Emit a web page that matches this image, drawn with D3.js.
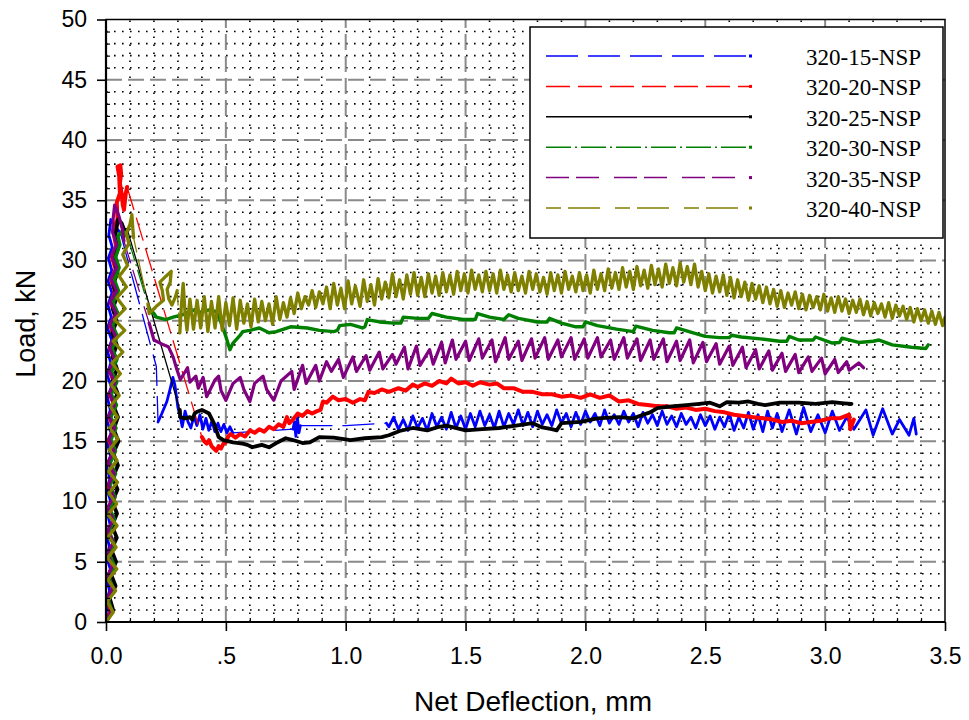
<!DOCTYPE html>
<html>
<head>
<meta charset="utf-8">
<script src="https://cdn.jsdelivr.net/npm/d3@7"></script>
<style>
  body { margin: 0; background: #fff; }
  svg { display: block; }
</style>
</head>
<body>
<svg id="chart" width="969" height="720"></svg>
<script>
// ---- data: load (kN) vs net deflection (mm) ----
const seriesNames = ["320-15-NSP", "320-20-NSP", "320-25-NSP", "320-30-NSP", "320-35-NSP", "320-40-NSP"];

const xTicks = [0, 0.5, 1.0, 1.5, 2.0, 2.5, 3.0, 3.5];
const xTickLabels = ["0.0", ".5", "1.0", "1.5", "2.0", "2.5", "3.0", "3.5"];
const yTicks = [0, 5, 10, 15, 20, 25, 30, 35, 40, 45, 50];
const yTickLabels = ["0", "5", "10", "15", "20", "25", "30", "35", "40", "45", "50"];

const nsp15 = [[0,0],[0.012,0.8],[0.002,1.7],[0.015,2.6],[0.003,3.5],[0.018,4.4],[0.004,5.3],[0.014,6.3],[0.002,7.2],[0.017,8.1],[0.005,9.1],[0.02,10.0],[0.004,11.0],[0.016,11.9],[0.003,12.9],[0.019,13.8],[0.006,14.8],[0.021,15.7],[0.004,16.7],[0.018,17.6],[0.006,18.6],[0.022,19.5],[0.005,20.5],[0.02,21.5],[0.007,22.4],[0.024,23.4],[0.006,24.4],[0.022,25.3],[0.008,26.3],[0.025,27.3],[0.009,28.3],[0.024,29.2],[0.01,30.2],[0.026,31.1],[0.012,32.1],[0.02,33.4],[0.035,32.9],[0.06,32.3],
  [0.21,21.2],[0.217,16.6],
  [0.233,17.3],[0.254,18.3],[0.267,19.3],[0.279,20.3],[0.288,19.6],[0.3,17.8],[0.31,17.0],[0.318,16.2],[0.33,17.5],[0.342,16.6],[0.354,16.1],[0.367,17.1],[0.379,16.3],[0.392,17.2],[0.404,16.0],[0.417,16.9],[0.429,15.9],[0.442,16.7],[0.454,15.8],[0.467,16.5],[0.479,15.8],[0.492,16.4],[0.504,15.7],[0.517,16.2],[0.529,15.7],
  [0.78,16.0],[0.786,16.6],[0.792,15.4],[0.798,17.1],[0.805,15.7],[0.811,16.3],
  [1.0,16.3],[1.17,16.5],
  [1.18,16.2],[1.2,17.0],[1.22,16.0],[1.24,16.8],[1.26,15.9],[1.28,17.1],[1.3,16.1],[1.32,16.9],[1.34,15.9],[1.36,17.3],[1.38,16.2],[1.4,17.0],[1.42,16.0],[1.44,17.4],[1.46,16.1],[1.48,17.1],[1.5,16.0],[1.52,17.3],[1.54,16.2],[1.56,17.5],[1.58,16.3],[1.6,17.2],[1.62,16.1],[1.64,17.5],[1.66,16.2],[1.68,17.3],[1.7,16.4],[1.72,17.6],[1.74,16.3],[1.76,17.4],[1.78,16.2],[1.8,17.5],[1.82,16.4],[1.84,17.2],[1.86,16.3],[1.88,17.6],[1.9,16.5],[1.92,17.3],[1.94,16.2],[1.96,17.4],[1.98,16.4],[2.0,17.5],[2.02,16.6],[2.04,17.3],[2.06,16.3],[2.08,17.6],[2.1,16.5],[2.12,17.2],[2.14,16.4],[2.16,17.5],[2.18,16.6],[2.2,17.3],[2.22,16.2],[2.24,17.4],[2.26,16.5],[2.28,17.2],[2.3,16.3],[2.32,17.5],[2.34,16.4],[2.36,17.1],[2.38,16.2],[2.4,17.3],[2.42,16.4],[2.44,17.0],[2.46,16.1],[2.48,17.2],[2.5,16.3],[2.52,17.1],[2.54,16.0],[2.56,17.0],[2.58,16.2],[2.6,17.3],[2.62,15.9],[2.64,17.0],[2.66,16.1],[2.68,17.4],[2.7,16.0],[2.72,17.2],[2.74,15.8],[2.76,17.5],[2.78,16.1],[2.8,17.3],[2.82,15.8],[2.85,17.6],[2.88,15.6],[2.91,17.8],[2.94,15.8],[2.97,17.2],[3.0,15.7],[3.03,17.5],[3.06,15.9],[3.09,17.0],[3.12,16.0],[3.17,17.6],[3.2,15.5],[3.24,17.7],[3.28,15.6],[3.31,16.8],[3.35,15.5],[3.37,16.9],[3.38,15.6]];

const nsp20 = [[0,0],[0.02,0.9],[0.006,1.8],[0.03,2.8],[0.008,3.7],[0.028,4.6],[0.01,5.6],[0.033,6.5],[0.009,7.5],[0.03,8.4],[0.012,9.4],[0.035,10.3],[0.01,11.3],[0.032,12.2],[0.013,13.2],[0.036,14.1],[0.012,15.1],[0.034,16.0],[0.014,17.0],[0.037,17.9],[0.015,18.9],[0.035,19.8],[0.016,20.8],[0.038,21.7],[0.017,22.7],[0.036,23.6],[0.018,24.6],[0.04,25.5],[0.02,26.5],[0.038,27.4],[0.022,28.4],[0.04,29.3],[0.024,30.3],[0.042,31.2],[0.03,32.5],[0.048,33.4],[0.045,34.8],[0.058,35.6],[0.055,37.0],[0.048,37.8],[0.06,37.9],[0.063,37.2],[0.058,36.4],[0.066,35.5],[0.07,34.6],[0.075,34.2],[0.082,35.5],[0.088,36.1],
  [0.4,15.35],
  [0.41,15.0],[0.42,14.8],[0.43,15.1],[0.44,14.6],[0.45,14.4],[0.46,14.2],[0.47,14.6],[0.48,14.4],[0.49,14.8],[0.5,14.9],[0.51,15.4],[0.52,15.6],[0.54,15.3],[0.56,15.6],[0.58,15.4],[0.6,15.9],[0.62,15.7],[0.64,16.0],[0.66,15.8],[0.68,16.2],[0.7,16.0],[0.72,16.4],[0.74,16.2],[0.755,17.0],[0.765,16.5],[0.78,16.8],[0.8,17.3],[0.82,17.1],[0.84,17.5],[0.86,17.3],[0.88,17.5],[0.895,17.6],[0.905,18.3],[0.92,18.2],[0.946,18.7],[0.97,18.4],[1.0,18.5],[1.03,18.2],[1.06,18.5],[1.08,18.4],[1.095,19.1],[1.12,19.0],[1.15,19.3],[1.18,19.1],[1.22,19.4],[1.25,19.2],[1.28,19.7],[1.3,19.5],[1.33,19.8],[1.36,19.6],[1.39,20.0],[1.42,19.8],[1.44,20.2],[1.47,19.8],[1.5,19.9],[1.53,19.6],[1.56,19.9],[1.6,19.7],[1.63,19.8],[1.66,19.4],[1.7,19.4],[1.74,19.1],[1.78,19.1],[1.82,18.9],[1.86,18.9],[1.9,18.7],[1.94,18.8],[1.98,18.6],[2.02,18.9],[2.06,18.6],[2.1,18.8],[2.14,18.3],[2.18,18.4],[2.22,18.1],[2.26,18.0],[2.3,17.9],[2.34,17.9],[2.38,17.7],[2.42,17.8],[2.46,17.6],[2.5,17.7],[2.54,17.5],[2.58,17.4],[2.62,17.2],[2.66,17.1],[2.7,17.0],[2.74,16.9],[2.78,16.8],[2.82,16.6],[2.86,16.7],[2.9,16.5],[2.94,16.6],[2.98,16.7],[3.02,16.9],[3.06,16.9],[3.1,17.2],[3.105,16.0],[3.12,16.8]];

const nsp25 = [[0,0],[0.03,1.0],[0.015,2.0],[0.04,3.0],[0.02,4.0],[0.042,5.0],[0.022,6.0],[0.045,7.0],[0.025,8.0],[0.046,9.0],[0.026,10.0],[0.048,11.0],[0.028,12.0],[0.05,13.0],[0.03,14.0],[0.052,15.0],[0.032,16.0],[0.05,17.0],[0.03,18.0],[0.048,19.0],[0.028,20.0],[0.046,21.0],[0.027,22.0],[0.045,23.0],[0.026,24.0],[0.044,25.0],[0.028,26.0],[0.046,27.0],[0.03,28.0],[0.048,29.0],[0.034,30.0],[0.05,31.0],[0.04,32.2],[0.05,33.4],[0.065,33.1],[0.075,32.6],[0.09,32.5],
  [0.308,17.6],
  [0.31,17.0],[0.33,16.9],[0.35,17.0],[0.36,16.8],[0.37,17.3],[0.38,17.45],[0.4,17.6],[0.43,17.3],[0.45,16.5],[0.47,15.35],[0.49,15.1],[0.53,14.9],[0.57,14.8],[0.59,14.7],[0.61,14.5],[0.65,14.7],[0.68,14.5],[0.71,14.85],[0.75,15.25],[0.78,15.1],[0.82,14.85],[0.85,14.9],[0.89,15.35],[0.95,15.3],[1.02,15.1],[1.08,15.25],[1.15,15.35],[1.18,15.5],[1.225,15.85],[1.28,16.1],[1.34,15.9],[1.39,16.2],[1.42,16.3],[1.5,15.9],[1.57,16.0],[1.64,16.1],[1.71,16.3],[1.78,16.5],[1.82,16.15],[1.86,16.0],[1.88,15.9],[1.9,16.5],[1.98,16.6],[2.05,16.9],[2.14,17.0],[2.2,16.9],[2.24,17.2],[2.27,17.4],[2.3,17.75],[2.36,17.9],[2.42,18.0],[2.475,18.1],[2.52,18.2],[2.56,17.9],[2.59,18.25],[2.64,18.2],[2.68,18.3],[2.72,18.1],[2.75,18.0],[2.81,18.2],[2.89,18.2],[2.96,18.1],[3.03,18.25],[3.08,18.15],[3.11,18.1]];

const nsp30 = [[0,0],[0.025,0.9],[0.01,1.8],[0.03,2.8],[0.012,3.7],[0.035,4.7],[0.014,5.6],[0.033,6.6],[0.012,7.5],[0.036,8.5],[0.015,9.4],[0.038,10.4],[0.016,11.3],[0.04,12.3],[0.018,13.2],[0.04,14.2],[0.02,15.1],[0.042,16.1],[0.02,17.0],[0.044,18.0],[0.022,18.9],[0.045,19.9],[0.024,20.8],[0.046,21.8],[0.025,22.7],[0.048,23.7],[0.028,24.6],[0.05,25.6],[0.03,26.5],[0.052,27.5],[0.035,28.4],[0.055,29.4],[0.04,30.3],[0.058,31.3],[0.05,32.0],[0.07,32.5],[0.075,32.1],[0.09,32.0],
  [0.18,26.0],
  [0.2,25.6],[0.21,25.3],[0.25,25.1],[0.28,25.3],[0.32,25.5],[0.36,25.9],[0.39,25.7],[0.43,25.9],[0.46,25.75],[0.475,25.1],[0.5,23.7],[0.517,22.6],[0.53,23.15],[0.56,23.8],[0.57,24.1],[0.6,24.2],[0.64,24.4],[0.68,24.0],[0.71,24.1],[0.77,24.5],[0.84,24.4],[0.89,24.2],[0.95,24.1],[0.965,24.2],[0.975,24.6],[1.02,24.7],[1.07,24.4],[1.08,24.5],[1.09,25.1],[1.14,24.9],[1.2,24.8],[1.23,24.8],[1.24,25.3],[1.3,25.2],[1.345,25.2],[1.36,25.6],[1.42,25.3],[1.49,25.1],[1.54,25.1],[1.55,25.6],[1.6,25.3],[1.66,25.1],[1.68,25.5],[1.72,25.2],[1.8,24.9],[1.84,24.9],[1.85,25.2],[1.9,24.8],[1.96,24.5],[1.99,24.5],[2.0,24.9],[2.05,24.6],[2.13,24.3],[2.2,24.1],[2.21,24.55],[2.28,24.2],[2.35,24.0],[2.37,24.0],[2.38,24.4],[2.45,24.0],[2.5,23.7],[2.56,23.6],[2.6,23.6],[2.61,23.8],[2.65,23.65],[2.73,23.5],[2.81,23.3],[2.84,23.3],[2.85,23.7],[2.89,23.4],[2.95,23.4],[2.96,23.65],[3.03,23.15],[3.06,23.2],[3.07,23.55],[3.14,23.2],[3.2,23.3],[3.225,23.4],[3.28,23.0],[3.36,22.8],[3.42,22.7],[3.43,23.0]];

const nsp35 = [[0,0],[0.022,0.9],[0.004,1.9],[0.026,2.8],[0.006,3.8],[0.028,4.7],[0.005,5.7],[0.03,6.6],[0.008,7.6],[0.03,8.5],[0.007,9.5],[0.032,10.4],[0.01,11.4],[0.034,12.3],[0.009,13.3],[0.033,14.2],[0.012,15.2],[0.036,16.1],[0.011,17.1],[0.035,18.0],[0.014,19.0],[0.038,19.9],[0.012,20.9],[0.036,21.8],[0.015,22.8],[0.04,23.7],[0.016,24.7],[0.042,25.6],[0.018,26.6],[0.044,27.5],[0.02,28.5],[0.045,29.4],[0.022,30.4],[0.045,31.3],[0.028,32.3],[0.03,33.5],[0.036,34.6],[0.045,34.2],[0.055,33.6],[0.068,32.6],[0.075,31.6],
  [0.18,24.8],
  [0.2,23.4],[0.24,23.0],[0.26,22.85],[0.28,22.0],[0.295,21.0],[0.31,20.1],[0.34,21.1],[0.35,19.9],[0.375,20.4],[0.385,19.4],[0.405,20.3],[0.42,18.7],[0.455,20.1],[0.47,20.4],[0.48,19.2],[0.5,18.4],[0.53,19.8],[0.56,20.3],[0.575,19.3],[0.6,18.3],[0.62,19.8],[0.655,20.4],[0.67,19.3],[0.7,18.4],[0.73,20.0],[0.775,20.8],[0.785,19.3],[0.82,21.3],[0.835,19.8],[0.875,21.3],[0.89,20.0],[0.92,21.6],[0.94,20.8],[0.97,21.8],[0.99,20.3],[1.03,22.0],[1.045,20.8],[1.085,22.1],[1.1,20.9],[1.14,22.4],[1.155,21.0],[1.195,22.2],[1.21,21.4],[1.245,22.8],[1.26,21.0],[1.295,22.9],[1.31,21.3],[1.35,22.6],[1.365,21.4],[1.4,23.2],[1.415,21.5],[1.445,23.4],[1.46,21.8],[1.5,23.3],[1.515,21.7],[1.555,23.5],[1.57,21.9],[1.61,23.4],[1.625,21.6],[1.665,23.6],[1.68,21.8],[1.72,23.3],[1.735,21.7],[1.775,23.5],[1.79,21.9],[1.83,23.6],[1.845,21.8],[1.885,23.4],[1.9,22.0],[1.94,23.6],[1.955,21.8],[1.995,23.5],[2.01,21.9],[2.05,23.6],[2.065,22.0],[2.105,23.4],[2.12,21.8],[2.16,23.6],[2.175,21.9],[2.215,23.5],[2.23,21.7],[2.27,23.4],[2.285,21.8],[2.325,23.5],[2.34,21.6],[2.38,23.3],[2.395,21.7],[2.435,23.4],[2.45,21.5],[2.49,23.2],[2.505,21.6],[2.545,23.1],[2.56,21.4],[2.6,22.9],[2.615,21.3],[2.655,22.8],[2.67,21.1],[2.71,22.6],[2.725,21.0],[2.765,22.5],[2.78,20.9],[2.82,22.3],[2.835,20.8],[2.875,22.2],[2.89,20.7],[2.93,22.0],[2.945,20.8],[2.985,21.9],[3.0,20.6],[3.04,21.8],[3.055,20.7],[3.09,21.6],[3.1,20.9],[3.14,21.5],[3.16,21.1]];

const nsp40 = [[0,0],[0.03,0.8],[0.005,1.7],[0.04,2.6],[0.008,3.5],[0.045,4.4],[0.006,5.3],[0.042,6.2],[0.01,7.1],[0.046,8.0],[0.008,8.9],[0.044,9.8],[0.012,10.7],[0.048,11.6],[0.01,12.5],[0.046,13.4],[0.014,14.3],[0.05,15.2],[0.015,16.1],[0.048,17.0],[0.018,17.9],[0.055,18.8],[0.02,19.7],[0.06,20.6],[0.025,21.5],[0.07,22.4],[0.03,23.3],[0.078,24.2],[0.035,25.1],[0.08,26.0],[0.045,26.9],[0.085,27.8],[0.055,28.7],[0.09,29.6],[0.07,30.5],[0.095,31.4],[0.085,32.3],[0.1,33.0],[0.108,33.8],[0.112,32.6],[0.115,31.9],
  [0.175,26.4],
  [0.18,25.6],[0.21,26.2],[0.24,26.7],[0.235,27.5],[0.225,28.2],[0.25,28.7],[0.272,29.1],[0.268,28.2],[0.255,27.6],[0.262,26.8],[0.275,26.3],[0.29,27.0],[0.297,27.5],
  [0.308,24.0],
  [0.315,26.4],[0.322,28.1],[0.33,25.6],[0.338,24.2],[0.35,26.8],[0.365,24.3],[0.38,26.7],[0.395,24.4],[0.41,27.0],[0.425,24.1],[0.44,26.6],[0.455,24.4],[0.47,27.0],[0.485,24.2],[0.5,26.5],[0.515,24.6],[0.53,26.9],[0.545,24.3],[0.56,26.7],[0.575,24.8],[0.59,26.4],[0.605,24.5],[0.62,26.8],[0.635,24.9],[0.65,26.6],[0.665,25.0],[0.68,26.4],[0.695,24.7],[0.71,27.0],[0.725,25.1],[0.74,26.5],[0.755,25.3],[0.77,26.9],[0.785,25.6],[0.8,27.3],[0.815,26.0],[0.83,27.0],[0.845,26.3],[0.86,27.5],[0.875,26.1],[0.89,27.4],[0.905,26.4],[0.92,27.8],[0.935,26.0],[0.95,28.1],[0.965,26.3],[0.98,27.7],[0.995,26.0],[1.01,28.3],[1.025,26.4],[1.04,27.9],
  [1.06,26.2],[1.075,28.4],[1.09,26.6],[1.105,28.0],[1.12,26.3],[1.135,28.5],[1.15,26.8],[1.165,28.2],[1.18,26.9],[1.195,28.9],[1.21,27.0],[1.225,28.4],[1.24,26.8],[1.255,28.8],[1.27,27.2],[1.285,29.0],[1.3,27.1],[1.315,28.6],[1.33,27.0],[1.345,28.9],[1.36,27.3],[1.375,28.7],[1.39,27.1],[1.405,29.0],[1.42,27.4],[1.435,28.8],[1.45,27.2],[1.465,29.1],[1.48,27.5],[1.495,28.9],[1.51,27.3],[1.525,29.2],[1.54,27.6],[1.555,28.8],[1.57,27.4],[1.585,29.1],[1.6,27.5],[1.615,28.9],[1.63,27.3],[1.645,29.2],[1.66,27.6],[1.675,28.8],[1.69,27.4],[1.705,29.0],[1.72,27.5],[1.735,28.7],[1.75,27.3],[1.765,29.1],[1.78,27.6],[1.795,28.9],[1.81,27.4],[1.825,28.6],[1.84,27.2],[1.855,29.0],[1.87,27.5],[1.885,28.8],[1.9,27.3],[1.915,29.1],[1.93,27.6],[1.945,28.7],[1.96,27.4],[1.975,29.0],[1.99,27.5],[2.005,28.8],[2.02,27.3],[2.035,29.2],[2.05,27.6],[2.065,28.9],[2.08,27.5],[2.095,29.3],[2.11,27.7],[2.125,29.0],[2.14,27.6],[2.155,29.4],[2.17,27.8],[2.185,29.1],[2.2,27.6],[2.215,29.5],[2.23,27.9],[2.245,29.2],[2.26,27.7],[2.275,29.6],[2.29,28.0],[2.305,29.3],[2.32,27.8],[2.335,29.7],[2.35,28.1],[2.365,29.4],[2.38,27.9],[2.395,29.8],[2.41,28.2],[2.425,29.5],[2.44,28.0],[2.455,29.7],[2.47,27.8],[2.485,29.1],[2.5,27.5],[2.515,28.9],[2.53,27.3],[2.545,28.7],[2.56,27.4],[2.575,28.8],[2.59,27.1],[2.605,28.6],[2.62,26.9],[2.635,28.4],[2.65,27.0],[2.665,28.2],[2.68,26.7],[2.695,28.1],[2.71,26.8],[2.725,27.9],[2.74,26.5],[2.755,27.8],[2.77,26.4],[2.785,27.6],[2.8,26.2],[2.815,27.5],[2.83,26.1],[2.845,27.3],[2.86,26.3],[2.875,27.4],[2.89,26.0],[2.905,27.2],[2.92,25.9],[2.935,27.1],[2.95,26.1],[2.965,27.0],[2.98,25.9],[2.995,27.2],[3.01,25.8],[3.025,26.9],[3.04,25.7],[3.055,27.0],[3.07,25.8],[3.085,26.8],[3.1,25.6],[3.115,26.7],[3.13,25.7],[3.145,26.8],[3.16,25.5],[3.175,26.6],[3.19,25.4],[3.205,26.5],[3.22,25.6],[3.235,26.4],[3.25,25.3],[3.265,26.5],[3.28,25.2],[3.295,26.3],[3.31,25.4],[3.325,26.2],[3.34,25.1],[3.355,26.1],[3.37,24.9],[3.385,26.0],[3.4,25.0],[3.415,25.9],[3.43,24.8],[3.445,25.8],[3.46,24.7],[3.475,25.7],[3.49,24.6],[3.5,25.3]];

const seriesValues = [nsp15, nsp20, nsp25, nsp30, nsp35, nsp40];

// ---- styles ----
const seriesColors = ["#0000ff", "#ff0000", "#000000", "#008000", "#800080", "#808000"];
const seriesDash = ["32,10", "24,8", null, "25,4,2,4", "23,7,23,15", "15,7,32,15"];
const denseWidth = [2.8, 4.0, 3.8, 3.4, 3.2, 3.3];

const W = 969, H = 720;
const plotL = 106, plotR = 945, plotT = 19.5, plotB = 622;
const fontSans = "'Liberation Sans', Arial, Helvetica, sans-serif";
const fontSerif = "'Liberation Serif', 'Times New Roman', serif";

const svg = d3.select("#chart");
svg.append("rect").attr("width", W).attr("height", H).attr("fill", "#fff");

const x = d3.scaleLinear().domain([0, 3.5]).range([plotL, plotR]);
const y = d3.scaleLinear().domain([0, 50]).range([plotB, plotT]);

// minor grid positions (0.1 mm, 1 kN), skipping the major lines
const xMinor = d3.range(1, 35).filter(i => i % 5 !== 0).map(i => i / 10);
const yMinor = d3.range(1, 50).filter(i => i % 5 !== 0);

const grid = svg.append("g");
grid.selectAll("line.mx").data(xMinor).join("line")
  .attr("x1", d => x(d)).attr("x2", d => x(d))
  .attr("y1", plotB).attr("y2", plotT)
  .attr("stroke", "#000").attr("stroke-width", 1.6).attr("stroke-dasharray", "1.6,6.4");
grid.selectAll("line.my").data(yMinor).join("line")
  .attr("x1", plotL).attr("x2", plotR)
  .attr("y1", d => y(d)).attr("y2", d => y(d))
  .attr("stroke", "#000").attr("stroke-width", 1.6).attr("stroke-dasharray", "1.6,6.4");

// major dashed grid
grid.selectAll("line.gx").data(xTicks.slice(1, -1)).join("line")
  .attr("x1", d => x(d)).attr("x2", d => x(d))
  .attr("y1", plotB).attr("y2", plotT)
  .attr("stroke", "#8a8a8a").attr("stroke-width", 2).attr("stroke-dasharray", "16,6");
grid.selectAll("line.gy").data(yTicks.slice(1, -1)).join("line")
  .attr("x1", plotL).attr("x2", plotR)
  .attr("y1", d => y(d)).attr("y2", d => y(d))
  .attr("stroke", "#8a8a8a").attr("stroke-width", 2).attr("stroke-dasharray", "16,6");

// clip for the data
svg.append("clipPath").attr("id", "plotClip")
  .append("rect").attr("x", plotL).attr("y", plotT)
  .attr("width", plotR - plotL).attr("height", plotB - plotT);

const line = d3.line().x(d => x(d[0])).y(d => y(d[1]));

// split a curve into dense stretches (drawn as a heavy solid trace) and
// sparse jumps between readings (drawn as a thin line in the series' dash style)
function splitRuns(pts, limit) {
  const runs = [];
  let cur = null;
  for (let i = 1; i < pts.length; i++) {
    const a = pts[i - 1], b = pts[i];
    const len = Math.hypot(x(b[0]) - x(a[0]), y(b[1]) - y(a[1]));
    const sparse = len > limit;
    if (!cur || cur.sparse !== sparse) { cur = { sparse, pts: [a] }; runs.push(cur); }
    cur.pts.push(b);
  }
  return runs;
}

const dataG = svg.append("g").attr("clip-path", "url(#plotClip)");
seriesValues.forEach((pts, i) => {
  const g = dataG.append("g");
  splitRuns(pts, 38).forEach(run => {
    const p = g.append("path").attr("d", line(run.pts))
      .attr("fill", "none").attr("stroke", seriesColors[i])
      .attr("stroke-linejoin", "round").attr("stroke-linecap", "round");
    if (run.sparse) {
      p.attr("stroke-width", 1.3).attr("stroke-linecap", "butt");
      if (seriesDash[i]) p.attr("stroke-dasharray", seriesDash[i]);
    } else {
      p.attr("stroke-width", denseWidth[i]);
    }
  });
});

// frame
svg.append("rect").attr("x", plotL).attr("y", plotT)
  .attr("width", plotR - plotL).attr("height", plotB - plotT)
  .attr("fill", "none").attr("stroke", "#000").attr("stroke-width", 1.5);
svg.append("line").attr("x1", plotL).attr("x2", plotL).attr("y1", plotT).attr("y2", plotB)
  .attr("stroke", "#000").attr("stroke-width", 2.2);
svg.append("line").attr("x1", plotL).attr("x2", plotR).attr("y1", plotB).attr("y2", plotB)
  .attr("stroke", "#000").attr("stroke-width", 2.2);

// axes
const xAxis = d3.axisBottom(x).tickValues(xTicks)
  .tickFormat((d, i) => xTickLabels[i]).tickSize(9).tickPadding(17).tickSizeOuter(0);
const xg = svg.append("g").attr("transform", `translate(0,${plotB})`).call(xAxis);
xg.select(".domain").remove();
xg.selectAll(".tick line").attr("stroke", "#000").attr("stroke-width", 1.6);
xg.selectAll(".tick text").attr("font-family", fontSans).attr("font-size", 23).attr("fill", "#000");

const xMinorAxis = d3.axisBottom(x).tickValues(xMinor).tickFormat("").tickSize(-4).tickSizeOuter(0);
const xmg = svg.append("g").attr("transform", `translate(0,${plotB})`).call(xMinorAxis);
xmg.select(".domain").remove();
xmg.selectAll(".tick line").attr("stroke", "#000").attr("stroke-width", 1.2);

const yAxis = d3.axisLeft(y).tickValues(yTicks)
  .tickFormat((d, i) => yTickLabels[i]).tickSize(9).tickPadding(10).tickSizeOuter(0);
const yg = svg.append("g").attr("transform", `translate(${plotL},0)`).call(yAxis);
yg.select(".domain").remove();
yg.selectAll(".tick line").attr("stroke", "#000").attr("stroke-width", 1.6);
yg.selectAll(".tick text").attr("font-family", fontSans).attr("font-size", 23).attr("fill", "#000");

const yMinorAxis = d3.axisLeft(y).tickValues(yMinor).tickFormat("").tickSize(-4).tickSizeOuter(0);
const ymg = svg.append("g").attr("transform", `translate(${plotL},0)`).call(yMinorAxis);
ymg.select(".domain").remove();
ymg.selectAll(".tick line").attr("stroke", "#000").attr("stroke-width", 1.2);

// axis titles
svg.append("text").attr("x", 533).attr("y", 711)
  .attr("text-anchor", "middle").attr("font-family", fontSans).attr("font-size", 28)
  .attr("fill", "#000").text("Net Deflection, mm");
svg.append("text").attr("transform", `translate(35,${(plotT + plotB) / 2 + 3}) rotate(-90)`)
  .attr("text-anchor", "middle").attr("font-family", fontSans).attr("font-size", 27)
  .attr("fill", "#000").text("Load, kN");

// legend
const leg = svg.append("g");
leg.append("rect").attr("x", 530).attr("y", 27).attr("width", 413).attr("height", 211)
  .attr("fill", "#fff").attr("stroke", "#000").attr("stroke-width", 1.5);
seriesNames.forEach((name, i) => {
  const ry = 56 + i * 30.4;
  const l = leg.append("line").attr("x1", 546).attr("x2", 751).attr("y1", ry).attr("y2", ry)
    .attr("stroke", seriesColors[i]).attr("stroke-width", 1.5);
  if (seriesDash[i]) l.attr("stroke-dasharray", seriesDash[i]);
  leg.append("rect").attr("x", 749).attr("y", ry - 1.5).attr("width", 3).attr("height", 3)
    .attr("fill", seriesColors[i]);
  leg.append("text").attr("x", 806).attr("y", ry + 9)
    .attr("font-family", fontSerif).attr("font-size", 23).attr("fill", "#000").text(name);
});
</script>
</body>
</html>
